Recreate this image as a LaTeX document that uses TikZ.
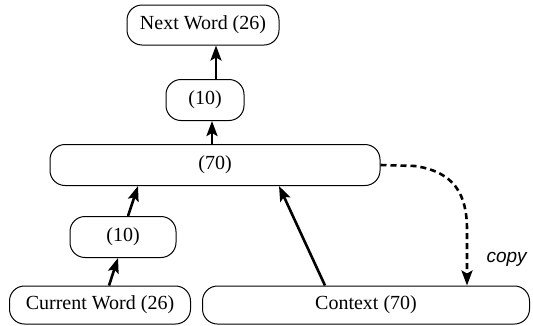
\documentclass[tikz,border=0pt]{standalone}
\usepackage{fontspec}
\setmainfont{Liberation Serif}
\newfontfamily\copyfont{Liberation Sans}
\usetikzlibrary{arrows.meta}
\begin{document}
\begin{tikzpicture}[x=1pt,y=-1pt,
  box/.style={draw,line width=1pt,rounded corners=15pt,inner sep=0pt,font=\fontsize{20}{22}\selectfont},
  tip/.style={-{Stealth[length=15pt,width=11pt,inset=3pt]}},
  conn/.style={line width=2.6pt,tip},
  dconn/.style={line width=2.6pt,dash pattern=on 6pt off 4pt,tip}]
\useasboundingbox (0,0) rectangle (533,325);
\node[box,minimum width=152pt,minimum height=40pt] (nw) at (203,25) {Next Word (26)};
\node[box,minimum width=78pt,minimum height=41pt] (t10) at (205,100) {(10)};
\node[box,minimum width=330pt,minimum height=41pt] (h70) at (215,165) {(70)};
\node[box,minimum width=106pt,minimum height=41pt] (l10) at (123,237) {(10)};
\node[box,minimum width=181pt,minimum height=38pt] (cw) at (100,305) {Current Word (26)};
\node[box,minimum width=327pt,minimum height=38pt] (ctx) at (366,305) {Context (70)};
\draw[conn] ([xshift=11pt]t10.north) -- ([xshift=13pt]nw.south);
\draw[conn] ([xshift=-3pt]h70.north) -- ([xshift=7pt]t10.south);
\draw[conn] ([xshift=5pt]l10.north) -- ([xshift=-77pt]h70.south);
\draw[conn] ([xshift=9pt]cw.north) -- ([xshift=-5pt]l10.south);
\draw[conn] ([xshift=-41pt]ctx.north) -- ([xshift=64pt]h70.south);
\coordinate (c1) at (415,166);
\draw[dconn] (h70.east) -- (c1) .. controls (455,172) and (467,195) .. (467,230) -- ([xshift=101pt]ctx.north);
\node[font=\copyfont\itshape\fontsize{19}{21}\selectfont,anchor=west] (cp) at (483,259) {copy};
\end{tikzpicture}
\end{document}
